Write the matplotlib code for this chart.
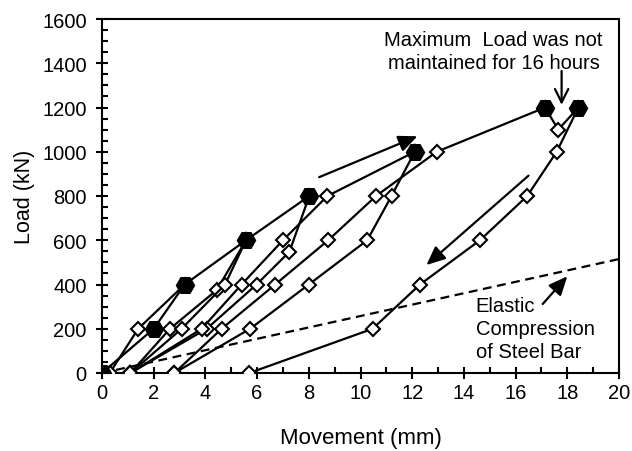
import matplotlib
matplotlib.use("Agg")
import matplotlib.pyplot as plt
from matplotlib.ticker import MultipleLocator

plt.rcParams['font.family'] = ['Liberation Sans', 'DejaVu Sans']

# ---- data (movement mm, load kN) ----
env_x = [0.0, 2.0, 3.2, 5.57, 8.02]
env_y = [0, 200, 400, 600, 800]

c1_x = [3.2, 1.4, 0.3]
c1_y = [400, 200, 0]

c2_x = [1.1, 2.63, 4.44, 5.57]
c2_y = [0, 200, 375, 600]

c3_x = [5.57, 4.76, 3.08, 1.1]
c3_y = [600, 400, 200, 0]

c4_x = [8.02, 7.25, 5.98, 4.05, 1.1]
c4_y = [800, 548, 400, 200, 0]

c5_x = [1.1, 3.86, 5.4, 7.0, 8.72, 12.1]
c5_y = [0, 200, 400, 600, 800, 1000]

c6_x = [12.1, 11.2, 10.26, 8.0, 5.73, 2.8]
c6_y = [1000, 800, 600, 400, 200, 0]

c7_x = [2.8, 4.63, 6.7, 8.75, 10.6, 12.95, 17.14, 17.65, 18.43,
        17.59, 16.45, 14.62, 12.3, 10.47, 5.7]
c7_y = [0, 200, 400, 600, 800, 1000, 1200, 1100, 1200,
        1000, 800, 600, 400, 200, 0]

peak_x = [0.0, 2.0, 3.2, 5.57, 8.02, 12.1, 17.14, 18.43]
peak_y = [0, 200, 400, 600, 800, 1000, 1200, 1200]

elastic_x = [0.0, 20.0]
elastic_y = [0, 515]

fig = plt.figure(figsize=(6.32, 4.52), dpi=100)
ax = fig.add_axes([102/632, 1-374/452, (619-102)/632, (374-20)/452])

open_kw = dict(color='black', lw=1.6, marker='D', markersize=7.5,
               markerfacecolor='white', markeredgecolor='black',
               markeredgewidth=1.5, zorder=3)
for xs, ys in [(c1_x, c1_y), (c2_x, c2_y), (c3_x, c3_y), (c4_x, c4_y),
               (c5_x, c5_y), (c6_x, c6_y), (c7_x, c7_y)]:
    ax.plot(xs, ys, **open_kw)
ax.plot(env_x, env_y, color='black', lw=1.6, zorder=3)
ax.plot(peak_x, peak_y, linestyle='none', marker='H', markersize=13,
        color='black', zorder=4)

ax.plot(elastic_x, elastic_y, color='black', lw=1.6, linestyle=(0, (4, 2.5)),
        zorder=2)

# arrows
akw = dict(arrowstyle='-|>,head_length=0.95,head_width=0.42', color='black',
           lw=1.6, mutation_scale=12, shrinkA=0, shrinkB=0)
ax.annotate('', xy=(12.2, 1070), xytext=(8.4, 885), arrowprops=akw)
ax.annotate('', xy=(12.55, 488), xytext=(16.5, 892), arrowprops=akw)
ax.annotate('', xy=(18.0, 437), xytext=(17.05, 312), arrowprops=akw)
ax.annotate('', xy=(17.78, 1212), xytext=(17.78, 1365),
            arrowprops=dict(arrowstyle='->,head_length=0.8,head_width=0.4',
                            color='black', lw=1.6,
                            mutation_scale=12, shrinkA=0, shrinkB=0))

ax.text(15.15, 1455, 'Maximum  Load was not\nmaintained for 16 hours',
        ha='center', va='center', fontsize=14.5, linespacing=1.3)
ax.text(14.45, 200, 'Elastic\nCompression\nof Steel Bar',
        ha='left', va='center', fontsize=14.5, linespacing=1.25)

ax.set_xlim(0, 20)
ax.set_ylim(0, 1600)
ax.xaxis.set_major_locator(MultipleLocator(2))
ax.xaxis.set_minor_locator(MultipleLocator(1))
ax.yaxis.set_major_locator(MultipleLocator(200))
ax.yaxis.set_minor_locator(MultipleLocator(50))
ax.tick_params(which='major', direction='inout', length=8, width=1.5,
               labelsize=14.5, color='black')
ax.tick_params(axis='x', which='major', pad=3)
ax.tick_params(axis='y', which='major', pad=7)
ax.tick_params(which='minor', direction='in', length=4, width=1.5)
for s in ax.spines.values():
    s.set_linewidth(1.5)

ax.set_xlabel('Movement (mm)', fontsize=16, labelpad=18)
ax.set_ylabel('Load (kN)', fontsize=15.5, labelpad=5)

fig.savefig('out.png', dpi=100)
